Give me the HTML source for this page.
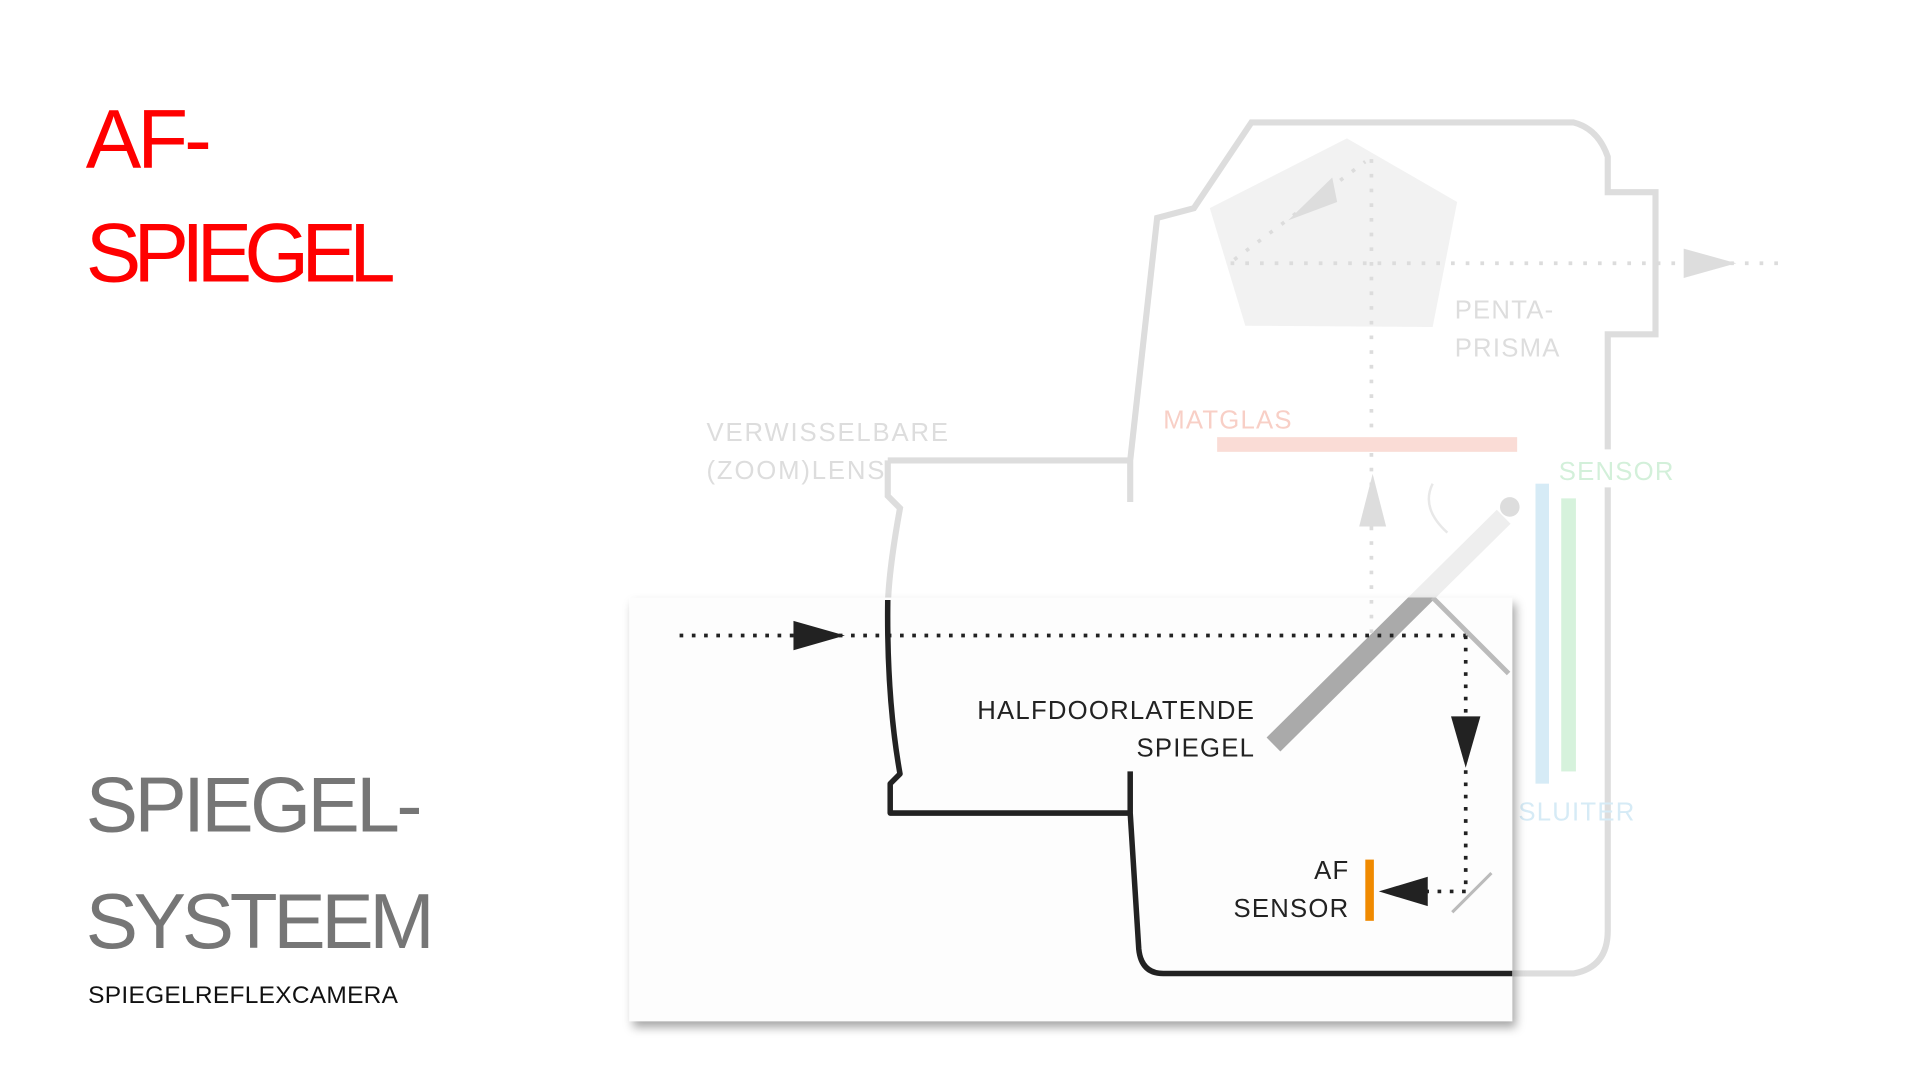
<!DOCTYPE html>
<html><head><meta charset="utf-8"><style>
html,body{margin:0;padding:0;background:#fff;width:1920px;height:1080px;overflow:hidden}
svg{display:block}
text{font-family:"Liberation Sans",sans-serif}
</style></head><body>
<svg width="1920" height="1080" viewBox="0 0 1568 882" xmlns="http://www.w3.org/2000/svg">
<defs>
<filter id="sh" x="-5%" y="-5%" width="112%" height="115%"><feDropShadow dx="3" dy="5" stdDeviation="4" flood-color="#000" flood-opacity="0.35"/></filter>
<clipPath id="box"><rect x="514" y="488" width="721" height="346"/></clipPath>
</defs>
<!-- titles -->
<text x="70" y="137" font-size="68" fill="#ff0000" textLength="103">AF-</text>
<text x="70" y="230" font-size="68" fill="#ff0000" textLength="253">SPIEGEL</text>
<text x="70" y="679" font-size="64" fill="#767676" textLength="275">SPIEGEL-</text>
<text x="70" y="774" font-size="64" fill="#767676" textLength="285">SYSTEEM</text>
<text x="72" y="819" font-size="20" fill="#111" textLength="253">SPIEGELREFLEXCAMERA</text>

<!-- background camera (light) -->
<g fill="none" stroke="#dddddd" stroke-width="5">
<path d="M725,376 H923 M923,410 V376 L945,178 L975,170 L1022,100 H1285 Q1305,105 1313,128 V157 H1352 V273 H1313 V367"/>
<path d="M1313,398 V760 Q1313,790 1285,795 H945"/>
<path d="M725,376 V405 L735,415 Q725,470 725,500"/>
</g>
<polygon points="988,170 1100,113 1190,165 1170,267 1017,266" fill="#f2f2f2"/>
<g stroke="#dcdcdc" stroke-width="3" stroke-dasharray="3,9" fill="none">
<line x1="1005" y1="215" x2="1455" y2="215"/>
<line x1="1120" y1="130" x2="1120" y2="519"/>
<line x1="1008" y1="212" x2="1115" y2="132"/>
</g>
<polygon points="1375,203 1418,215 1375,227" fill="#dddddd"/>
<polygon points="1088,145 1052,180 1092,165" fill="#dddddd"/>
<polygon points="1121,387 1110,430 1132,430" fill="#dddddd"/>
<rect x="994" y="357" width="245" height="12" fill="#fadcd6"/>
<text x="950" y="350" font-size="21" fill="#f8cfc6" letter-spacing="1">MATGLAS</text>
<text x="1188" y="260" font-size="21" fill="#dddddd" letter-spacing="1">PENTA-</text>
<text x="1188" y="291" font-size="21" fill="#dddddd" letter-spacing="1">PRISMA</text>
<text x="577" y="360" font-size="21" fill="#dddddd" letter-spacing="1.5">VERWISSELBARE</text>
<text x="577" y="391" font-size="21" fill="#dddddd" letter-spacing="1.5">(ZOOM)LENS</text>
<text x="1273" y="392" font-size="21" fill="#d3f0da" letter-spacing="1">SENSOR</text>
<rect x="1254" y="395" width="11" height="245" fill="#d6ebf6"/>
<rect x="1275" y="407" width="12" height="223" fill="#d6f2dc"/>
<text x="1240" y="670" font-size="21" fill="#d6ebf6" letter-spacing="1">SLUITER</text>
<path d="M1170,395 Q1160,415 1182,435" stroke="#e8e8e8" stroke-width="2" fill="none"/>
<circle cx="1233" cy="414" r="8" fill="#dddddd"/>
<line x1="1040" y1="608" x2="1228" y2="422" stroke="#eeeeee" stroke-width="16"/>
<line x1="1170" y1="488" x2="1232" y2="550" stroke="#eeeeee" stroke-width="4"/>

<!-- foreground box -->
<rect x="514" y="488" width="721" height="346" fill="#fdfdfd" filter="url(#sh)"/>
<g clip-path="url(#box)">
<line x1="1040" y1="608" x2="1228" y2="422" stroke="#aaaaaa" stroke-width="16"/>
<line x1="1170" y1="488" x2="1232" y2="550" stroke="#bbbbbb" stroke-width="4"/>
<g stroke="#dcdcdc" stroke-width="3" stroke-dasharray="3,9"><line x1="1120" y1="490" x2="1120" y2="519"/></g>
</g>
<line x1="1186" y1="745" x2="1218" y2="713" stroke="#bbbbbb" stroke-width="2.5"/>
<g fill="none" stroke="#222" stroke-width="4.5" stroke-linejoin="round">
<path d="M725,490 Q724,570 735,632 L727,640 V664 H923"/>
<path d="M923,630 V664 L930,775 Q932,795 950,795 H1235"/>
</g>
<g stroke="#222" stroke-width="3" stroke-dasharray="3,7" fill="none">
<line x1="555" y1="519" x2="1197" y2="519"/>
<line x1="1197" y1="519" x2="1197" y2="728"/>
<line x1="1197" y1="728" x2="1160" y2="728"/>
</g>
<polygon points="648,507 690,519 648,531" fill="#222"/>
<polygon points="1185,585 1209,585 1197,627" fill="#222"/>
<polygon points="1166,716 1166,740 1126,728" fill="#222"/>
<rect x="1115" y="702" width="7" height="50" fill="#f08a00"/>
<g font-size="21" fill="#222" text-anchor="end" letter-spacing="1">
<text x="1025" y="587">HALFDOORLATENDE</text>
<text x="1025" y="618">SPIEGEL</text>
<text x="1102" y="718">AF</text>
<text x="1102" y="749">SENSOR</text>
</g>
</svg>
</body></html>
